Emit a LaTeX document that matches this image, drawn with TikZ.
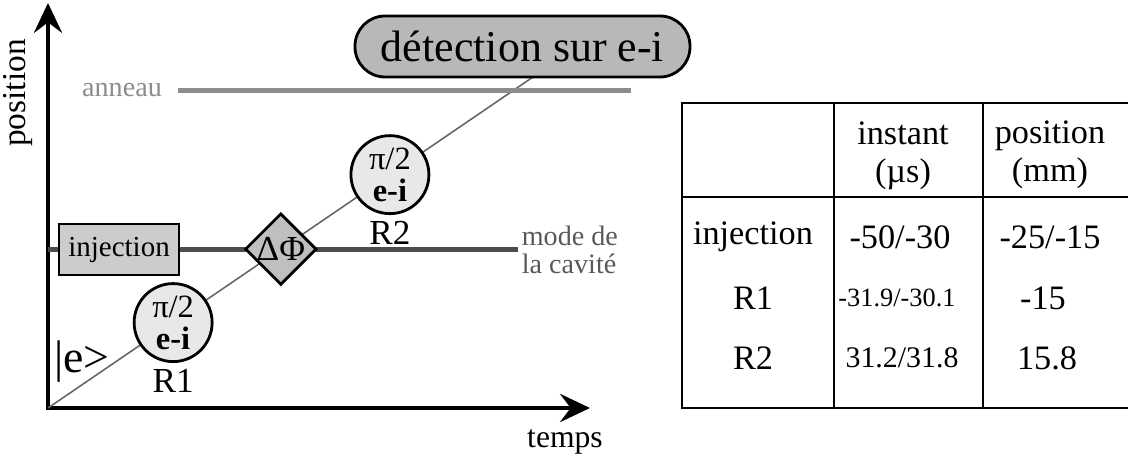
\documentclass[tikz,border=0pt]{standalone}
\usepackage{fontspec}
\setmainfont{Liberation Serif}
\usetikzlibrary{arrows.meta,calc,shapes.geometric,positioning}
\tikzset{every node/.append style={align=center}}
\definecolor{ringgray}{gray}{0.55}
\definecolor{modegray}{gray}{0.3}
\definecolor{labelgray}{gray}{0.35}
\definecolor{detgray}{gray}{0.72}
\definecolor{injgray}{gray}{0.8}
\definecolor{phasegray}{gray}{0.75}
\definecolor{pulsegray}{gray}{0.91}
\newcommand{\fsz}[2]{\fontsize{#1}{#2}\selectfont}

\begin{document}
\begin{tikzpicture}[
  axis/.style={line width=2.6pt, line cap=rect,
    -{Stealth[length=17pt,width=16pt,inset=6pt]}},
  atomline/.style={line width=0.9pt, gray!80!black},
  pulse/.style={circle, draw, line width=1.6pt, fill=pulsegray,
    minimum size=1.56cm, inner sep=0pt, font=\fsz{18.5}{18}},
  tag/.style={font=\fsz{20}{20}},
  cell/.style={font=\fsz{19.5}{21.6}},
  grid/.style={line width=1.1pt}]

  \useasboundingbox (0,0) rectangle (22.56,9.18);

  % === AXES ===
  \coordinate (O) at (0.96,1.02);
  \coordinate (ytip) at (0.96,9.12);
  \coordinate (xtip) at (11.8,1.02);
  \draw[axis] (O) -- (ytip);
  \draw[axis] (O) -- (xtip);
  \node[rotate=90, font=\fsz{19}{19}] (plbl) at (0.36,7.32) {position};
  \node[font=\fsz{18}{18}] (tlbl) at (11.3,0.34) {temps};

  % Atom trajectory
  \coordinate (top) at (10.66,7.64);
  \draw[atomline] (O) -- (top);
  \node[font=\fsz{26}{26}] (ket) at (1.64,1.94) {|e>};

  % Ring
  \node[font=\fsz{16}{16}, text=ringgray, inner sep=0pt, outer xsep=9pt]
    (ann) at (2.44,7.37) {anneau};
  \coordinate (ringend) at (12.62,7.37);
  \draw[line width=3.4pt, ringgray] (ann) -- (ringend);

  % Cavity mode
  \coordinate (modestart) at (0.96,4.19);
  \node[anchor=west, align=left, font=\fsz{16}{16}, text=labelgray,
    inner xsep=2pt] (mode) at (10.36,4.19) {mode de\\la cavité};
  \draw[line width=3.4pt, modegray] (modestart) -- (mode);
  \node[draw, line width=1.1pt, fill=injgray, minimum width=2.4cm,
    minimum height=1.02cm, font=\fsz{16.5}{16.5}]
    (inj) at (2.38,4.19) {injection};
  \node[diamond, draw, line width=1.6pt, fill=phasegray, aspect=1,
    inner sep=0pt, minimum size=1.42cm, font=\fsz{20}{20}]
    (dphi) at ($(O)!0.48!(top)$) {ΔΦ};

  % Pulses
  \node[pulse] (r1) at ($(O)!0.258!(top)$) {π/2\\\textbf{e-i}};
  \node[tag, below=0pt of r1] (r1lbl) {R1};
  \node[pulse] (r2) at ($(O)!0.705!(top)$) {π/2\\\textbf{e-i}};
  \node[tag, below=0pt of r2] (r2lbl) {R2};

  % Detection
  \node[draw, line width=1.6pt, fill=detgray, rounded corners=0.6cm,
    minimum width=6.7cm, minimum height=1.22cm, inner sep=0pt,
    font=\fsz{25}{25}] (det) at (10.45,8.25) {détection sur e-i};

  % === TABLE ===
  \draw[grid] (22.56,7.12) -- (13.64,7.12) -- (13.64,1.02) -- (22.56,1.02);
  \draw[grid] (13.64,5.24) -- (22.56,5.24);
  \draw[grid] (16.68,7.12) -- (16.68,1.02);
  \draw[grid] (19.66,7.12) -- (19.66,1.02);

  \node[cell] (hinst) at (18.06,6.06) {instant\\(µs)};
  \node[cell] (hpos) at (21.0,6.08) {position\\(mm)};

  \node[cell] (cinj) at (15.06,4.44) {injection};
  \node[cell] (cr1) at (15.06,3.22) {R1};
  \node[cell] (cr2) at (15.06,2.02) {R2};

  \node[cell] (tinj) at (18.0,4.44) {-50/-30};
  \node[font=\fsz{15}{15}] (tr1) at (17.94,3.22) {-31.9/-30.1};
  \node[font=\fsz{17}{17}] (tr2) at (18.04,2.02) {31.2/31.8};

  \node[cell] (pinj) at (21.0,4.44) {-25/-15};
  \node[cell] (pr1) at (20.86,3.22) {-15};
  \node[cell] (pr2) at (20.94,2.02) {15.8};

\end{tikzpicture}
\end{document}
